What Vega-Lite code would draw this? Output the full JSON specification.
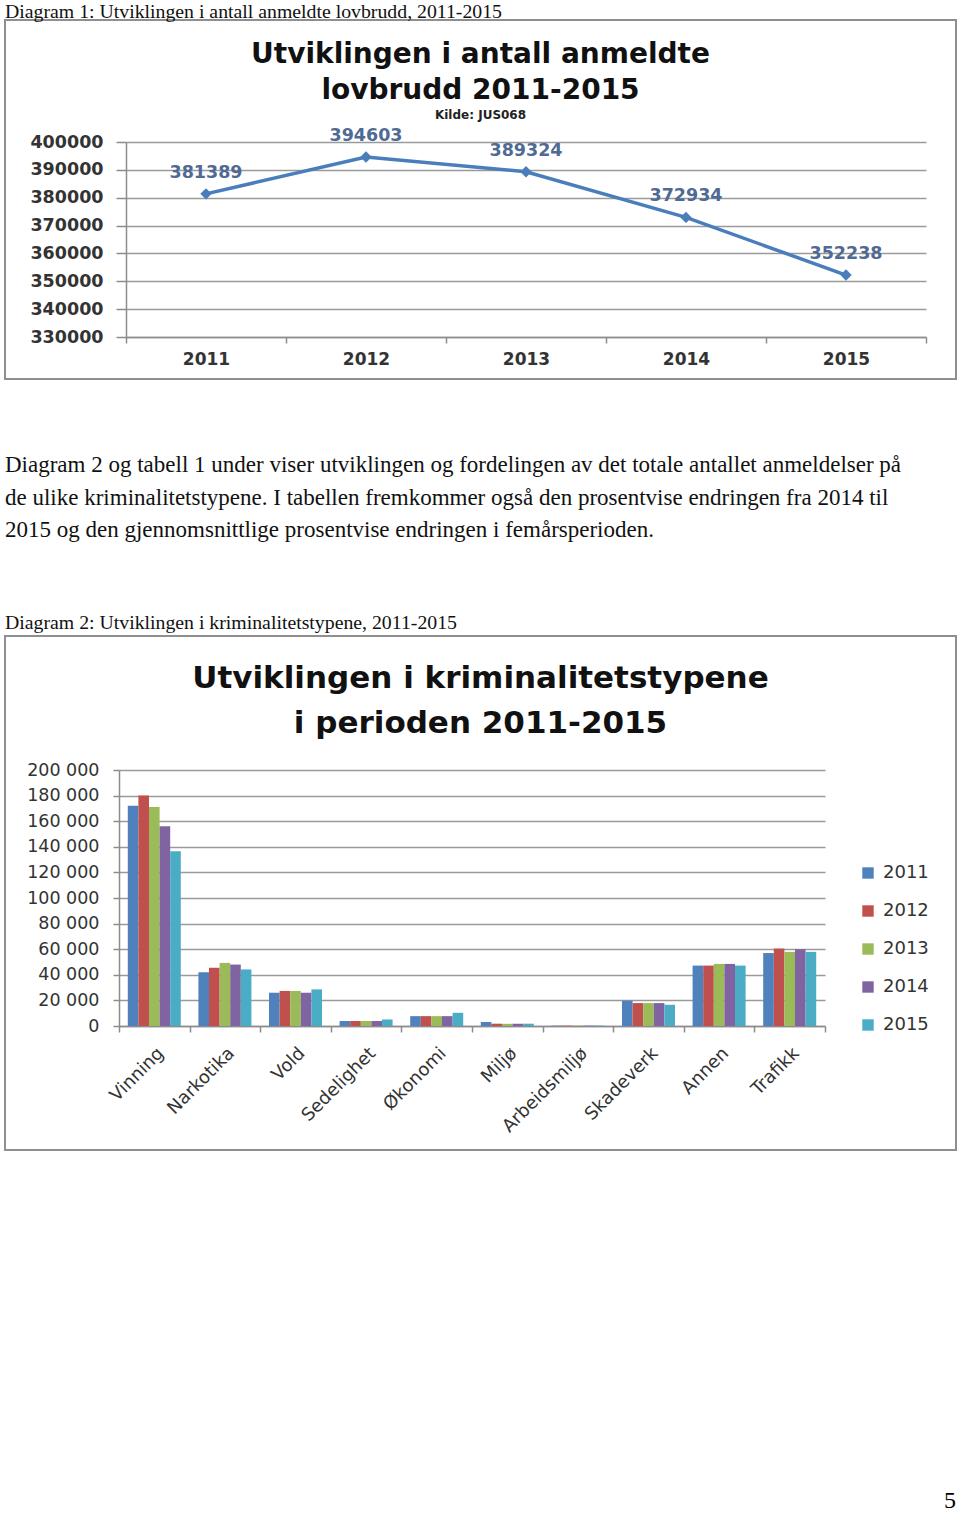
{
  "$schema": "https://vega.github.io/schema/vega-lite/v6.json",
  "background": "white",
  "padding": {"left": 4, "top": 2, "right": 4, "bottom": 8},
  "spacing": 74,
  "config": {
    "view": {"stroke": "#8f8f8f", "strokeWidth": 2},
    "locale": {"number": {"decimal": ",", "thousands": " ", "grouping": [3], "currency": ["", " kr"]}},
    "axis": {"domainColor": "#8c8c8c", "tickColor": "#8c8c8c", "gridColor": "#9a9a9a", "domainWidth": 1.5, "tickWidth": 1.5, "gridWidth": 1.5, "labelFont": "DejaVu Sans", "labelColor": "#333333"}
  },
  "title": {"text": "5", "orient": "bottom", "anchor": "end", "frame": "group", "offset": 338, "font": "Liberation Serif", "fontSize": 24, "fontWeight": "normal", "color": "#000000"},
  "vconcat": [
    {
      "title": {"text": "Diagram 1: Utviklingen i antall anmeldte lovbrudd, 2011-2015", "anchor": "start", "frame": "group", "offset": -3, "font": "Liberation Serif", "fontSize": 19.8, "fontWeight": "normal", "color": "#111111"},
      "vconcat": [
        {
          "width": 951,
          "height": 359,
          "title": {"text": ["Utviklingen i antall anmeldte", "lovbrudd 2011-2015"], "subtitle": "Kilde: JUS068", "anchor": "middle", "frame": "group", "orient": "top", "offset": -101, "font": "DejaVu Sans", "fontSize": 28, "fontWeight": "bold", "color": "#111111", "lineHeight": 36, "subtitleFont": "DejaVu Sans", "subtitleFontSize": 12, "subtitleFontWeight": "bold", "subtitleColor": "#222222", "subtitlePadding": 5},
          "data": {"values": [
            {"year": "2011", "value": 381389},
            {"year": "2012", "value": 394603},
            {"year": "2013", "value": 389324},
            {"year": "2014", "value": 372934},
            {"year": "2015", "value": 352238}
          ]},
          "encoding": {
            "x": {"field": "year", "type": "ordinal", "bandPosition": 0.5,
              "scale": {"type": "band", "range": [121, 921], "paddingInner": 0, "paddingOuter": 0},
              "axis": {"title": null, "orient": "bottom", "offset": -42, "tickBand": "extent", "tickSize": 6, "labelPadding": 8, "labelAngle": 0, "labelFontSize": 17, "labelFontWeight": "bold", "grid": false}},
            "y": {"field": "value", "type": "quantitative",
              "scale": {"domain": [330000, 400000], "range": [317, 122], "zero": false, "nice": false},
              "axis": {"title": null, "offset": -121, "values": [330000, 340000, 350000, 360000, 370000, 380000, 390000, 400000], "format": "d", "grid": true, "tickSize": 10, "labelPadding": 13, "labelFontSize": 17.5, "labelFontWeight": "bold"}}
          },
          "layer": [
            {"mark": {"type": "line", "color": "#4a7ebb", "strokeWidth": 3.5}},
            {"mark": {"type": "point", "shape": "diamond", "filled": true, "opacity": 1, "color": "#4a7ebb", "size": 130}},
            {"mark": {"type": "text", "dy": -21, "font": "DejaVu Sans", "fontSize": 17.5, "fontWeight": "bold", "color": "#4f6a93"}, "encoding": {"text": {"field": "value", "type": "quantitative", "format": "d"}}}
          ]
        }
      ]
    },
    {
      "title": {"text": ["Diagram 2 og tabell 1 under viser utviklingen og fordelingen av det totale antallet anmeldelser på", "de ulike kriminalitetstypene. I tabellen fremkommer også den prosentvise endringen fra 2014 til", "2015 og den gjennomsnittlige prosentvise endringen i femårsperioden."], "subtitle": "Diagram 2: Utviklingen i kriminalitetstypene, 2011-2015", "anchor": "start", "frame": "group", "offset": 2, "font": "Liberation Serif", "fontSize": 23, "fontWeight": "normal", "color": "#111111", "lineHeight": 32.5, "subtitleFont": "Liberation Serif", "subtitleFontSize": 19.8, "subtitleColor": "#111111", "subtitlePadding": 71},
      "vconcat": [
        {
          "width": 951,
          "height": 514,
          "title": {"text": ["Utviklingen i kriminalitetstypene", "i perioden 2011-2015"], "anchor": "middle", "frame": "group", "orient": "top", "offset": -104, "font": "DejaVu Sans", "fontSize": 31, "fontWeight": "bold", "color": "#111111", "lineHeight": 45},
          "data": {"values": [
            {"type": "Vinning", "year": "2011", "value": 172000},
            {"type": "Vinning", "year": "2012", "value": 180000},
            {"type": "Vinning", "year": "2013", "value": 171000},
            {"type": "Vinning", "year": "2014", "value": 156000},
            {"type": "Vinning", "year": "2015", "value": 136500},
            {"type": "Narkotika", "year": "2011", "value": 42000},
            {"type": "Narkotika", "year": "2012", "value": 45500},
            {"type": "Narkotika", "year": "2013", "value": 49300},
            {"type": "Narkotika", "year": "2014", "value": 48000},
            {"type": "Narkotika", "year": "2015", "value": 44200},
            {"type": "Vold", "year": "2011", "value": 26000},
            {"type": "Vold", "year": "2012", "value": 27400},
            {"type": "Vold", "year": "2013", "value": 27400},
            {"type": "Vold", "year": "2014", "value": 26000},
            {"type": "Vold", "year": "2015", "value": 28600},
            {"type": "Sedelighet", "year": "2011", "value": 3900},
            {"type": "Sedelighet", "year": "2012", "value": 3900},
            {"type": "Sedelighet", "year": "2013", "value": 3900},
            {"type": "Sedelighet", "year": "2014", "value": 3900},
            {"type": "Sedelighet", "year": "2015", "value": 5100},
            {"type": "Økonomi", "year": "2011", "value": 7700},
            {"type": "Økonomi", "year": "2012", "value": 7700},
            {"type": "Økonomi", "year": "2013", "value": 7700},
            {"type": "Økonomi", "year": "2014", "value": 7700},
            {"type": "Økonomi", "year": "2015", "value": 10300},
            {"type": "Miljø", "year": "2011", "value": 3100},
            {"type": "Miljø", "year": "2012", "value": 1800},
            {"type": "Miljø", "year": "2013", "value": 1700},
            {"type": "Miljø", "year": "2014", "value": 1800},
            {"type": "Miljø", "year": "2015", "value": 1800},
            {"type": "Arbeidsmiljø", "year": "2011", "value": 300},
            {"type": "Arbeidsmiljø", "year": "2012", "value": 300},
            {"type": "Arbeidsmiljø", "year": "2013", "value": 300},
            {"type": "Arbeidsmiljø", "year": "2014", "value": 300},
            {"type": "Arbeidsmiljø", "year": "2015", "value": 300},
            {"type": "Skadeverk", "year": "2011", "value": 19800},
            {"type": "Skadeverk", "year": "2012", "value": 17900},
            {"type": "Skadeverk", "year": "2013", "value": 17900},
            {"type": "Skadeverk", "year": "2014", "value": 17900},
            {"type": "Skadeverk", "year": "2015", "value": 16600},
            {"type": "Annen", "year": "2011", "value": 47200},
            {"type": "Annen", "year": "2012", "value": 47200},
            {"type": "Annen", "year": "2013", "value": 48500},
            {"type": "Annen", "year": "2014", "value": 48500},
            {"type": "Annen", "year": "2015", "value": 47200},
            {"type": "Trafikk", "year": "2011", "value": 57000},
            {"type": "Trafikk", "year": "2012", "value": 60500},
            {"type": "Trafikk", "year": "2013", "value": 57900},
            {"type": "Trafikk", "year": "2014", "value": 60000},
            {"type": "Trafikk", "year": "2015", "value": 57900}
          ]},
          "mark": {"type": "bar"},
          "encoding": {
            "x": {"field": "type", "type": "nominal", "sort": null,
              "scale": {"type": "band", "range": [114, 820], "paddingInner": 0, "paddingOuter": 0},
              "axis": {"title": null, "orient": "bottom", "offset": -124, "tickBand": "extent", "tickSize": 6, "labelPadding": 12, "labelAngle": -45, "labelFontSize": 18, "grid": false}},
            "xOffset": {"field": "year", "type": "nominal", "scale": {"paddingInner": 0, "paddingOuter": 0.83}},
            "y": {"field": "value", "type": "quantitative",
              "scale": {"domain": [0, 200000], "range": [390, 134], "nice": false},
              "axis": {"title": null, "offset": -114, "values": [0, 20000, 40000, 60000, 80000, 100000, 120000, 140000, 160000, 180000, 200000], "format": ",d", "grid": true, "tickSize": 6, "labelPadding": 14, "labelFontSize": 17.5}},
            "color": {"field": "year", "type": "nominal",
              "scale": {"domain": ["2011", "2012", "2013", "2014", "2015"], "range": ["#4f81bd", "#c0504d", "#9bbb59", "#8064a2", "#4bacc6"]},
              "legend": {"title": null, "orient": "none", "legendX": 854, "legendY": 844, "symbolType": "square", "symbolSize": 130, "symbolStrokeWidth": 0, "labelFont": "DejaVu Sans", "labelFontSize": 18, "labelColor": "#333333", "rowPadding": 20, "labelOffset": 6}}
          }
        }
      ]
    }
  ]
}
